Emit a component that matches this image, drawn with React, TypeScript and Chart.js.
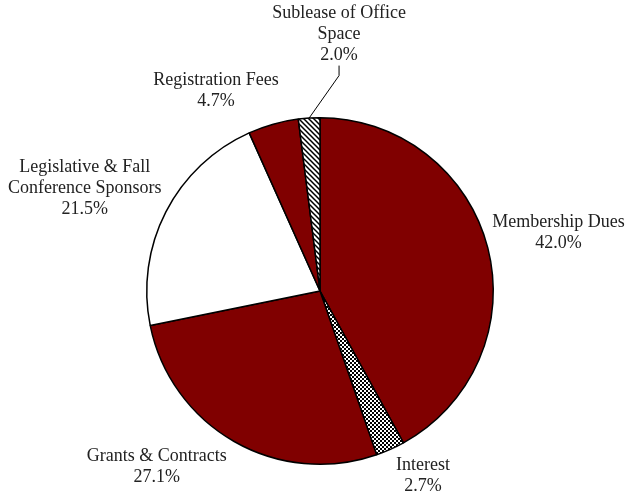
import React, { useEffect, useRef } from "react";
import { Chart, registerables } from "chart.js";

Chart.register(...registerables);

const categories = [
  "Membership Dues",
  "Interest",
  "Grants & Contracts",
  "Legislative & Fall Conference Sponsors",
  "Registration Fees",
  "Sublease of Office Space",
];
const values = [42.0, 2.7, 27.1, 21.5, 4.7, 2.0];
const labelLines = [
  ["Membership Dues"],
  ["Interest"],
  ["Grants & Contracts"],
  ["Legislative & Fall", "Conference Sponsors"],
  ["Registration Fees"],
  ["Sublease of Office", "Space"],
];
const fillKinds = ["solid", "dots", "solid", "white", "solid", "hatch"];
const labelOffsets = [
  [1.376, -0.335],
  [0.595, 1.069],
  [-0.942, 1.012],
  [-1.358, -0.595],
  [-0.6, -1.156],
  [0.11, -1.48],
];
const leaderSlices = [5];

const DARK_RED = "#800000";

function makeDots(): CanvasPattern | string {
  const c = document.createElement("canvas");
  c.width = 4;
  c.height = 4;
  const ctx = c.getContext("2d");
  if (!ctx) return "#888";
  ctx.fillStyle = "#fff";
  ctx.fillRect(0, 0, 4, 4);
  ctx.fillStyle = "#000";
  ctx.fillRect(0, 0, 2, 2);
  ctx.fillRect(2, 2, 2, 2);
  return ctx.createPattern(c, "repeat") || "#888";
}

function makeHatch(): CanvasPattern | string {
  const s = 5;
  const c = document.createElement("canvas");
  c.width = s;
  c.height = s;
  const ctx = c.getContext("2d");
  if (!ctx) return "#ccc";
  ctx.fillStyle = "#fff";
  ctx.fillRect(0, 0, s, s);
  ctx.strokeStyle = "#000";
  ctx.lineWidth = 1.5;
  ctx.beginPath();
  ctx.moveTo(-1, -1);
  ctx.lineTo(s + 1, s + 1);
  ctx.moveTo(-1, s - 1);
  ctx.lineTo(1, s + 1);
  ctx.moveTo(s - 1, -1);
  ctx.lineTo(s + 1, 1);
  ctx.stroke();
  return ctx.createPattern(c, "repeat") || "#ccc";
}

const labelPlugin = {
  id: "sliceLabels",
  afterDraw(chart: any) {
    const ctx = chart.ctx as CanvasRenderingContext2D;
    const meta = chart.getDatasetMeta(0);
    const font = '18px "Liberation Serif"';
    const lineH = 21;
    ctx.save();
    ctx.font = font;
    ctx.fillStyle = "#222";
    ctx.textAlign = "center";
    ctx.textBaseline = "middle";
    meta.data.forEach((arc: any, i: number) => {
      const p = arc.getProps(["x", "y", "outerRadius", "startAngle", "endAngle"], true);
      const r = p.outerRadius;
      const lx = p.x + labelOffsets[i][0] * r;
      const ly = p.y + labelOffsets[i][1] * r;
      const lines = [...labelLines[i], values[i].toFixed(1) + "%"];
      const top = ly - ((lines.length - 1) * lineH) / 2;
      lines.forEach((t, k) => ctx.fillText(t, lx, top + k * lineH));
      if (leaderSlices.includes(i)) {
        const mid = (p.startAngle + p.endAngle) / 2;
        const ex = p.x + Math.cos(mid) * r;
        const ey = p.y + Math.sin(mid) * r;
        const sy = top + (lines.length - 1) * lineH + 10;
        ctx.strokeStyle = "#000";
        ctx.lineWidth = 1;
        ctx.beginPath();
        ctx.moveTo(lx, sy);
        ctx.lineTo(lx, sy + 10);
        ctx.lineTo(ex, ey);
        ctx.stroke();
      }
    });
    ctx.restore();
  },
};

export default function App() {
  const ref = useRef<HTMLCanvasElement>(null);
  useEffect(() => {
    if (!ref.current) return;
    const dots = makeDots();
    const hatch = makeHatch();
    const colors = fillKinds.map((k) =>
      k === "solid" ? DARK_RED : k === "white" ? "#ffffff" : k === "dots" ? dots : hatch
    );
    const chart = new Chart(ref.current, {
      type: "pie",
      data: {
        labels: categories,
        datasets: [
          {
            data: values,
            backgroundColor: colors as any,
            borderColor: "#000",
            borderWidth: 1.5,
          },
        ],
      },
      options: {
        responsive: false,
        animation: false,
        layout: { padding: { top: 117, bottom: 32, left: 5, right: 0 } },
        plugins: {
          legend: { display: false },
          tooltip: { enabled: false },
        },
      },
      plugins: [labelPlugin],
    });
    return () => chart.destroy();
  }, []);
  return (
    <div style={{ position: "absolute", left: 0, top: 0, width: 635, height: 497, background: "#fff" }}>
      <canvas ref={ref} width={635} height={497} style={{ display: "block" }} />
    </div>
  );
}
